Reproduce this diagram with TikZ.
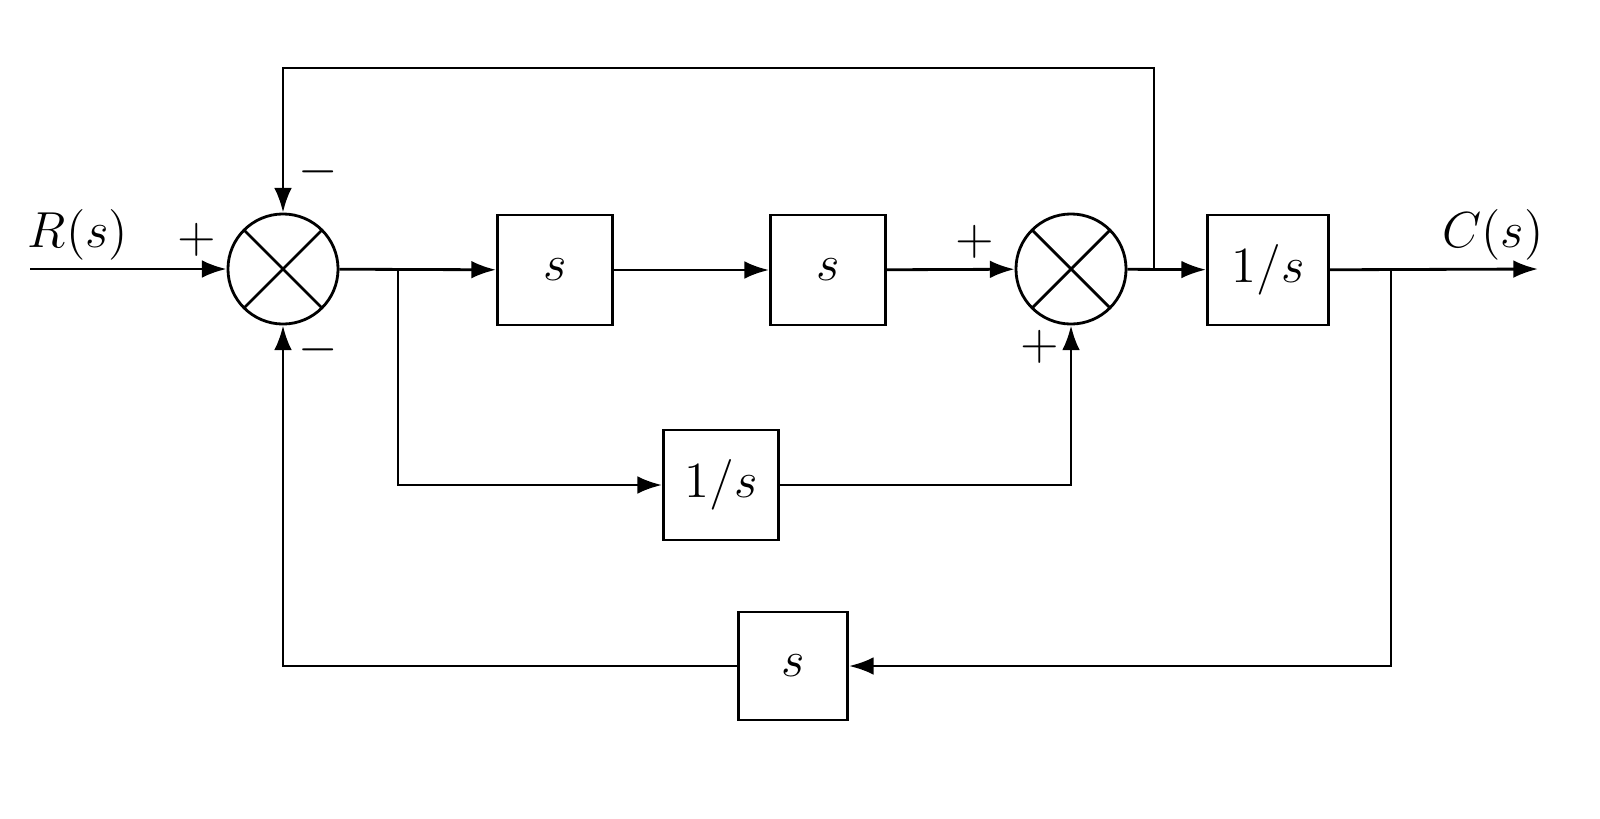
\documentclass[tikz,border=0pt]{standalone}
\usetikzlibrary{arrows.meta,calc}
\begin{document}
\begin{tikzpicture}[x=0.01cm,y=-0.01cm,
  line width=0.8pt,
  sum/.style={draw,circle,minimum size=1.1cm,inner sep=0pt},
  arr/.style={-{Latex[length=7pt,width=5pt]}},
  lab/.style={font=\fontsize{15}{17}\selectfont},
  sg/.style={font=\fontsize{14}{16}\selectfont}]
\useasboundingbox (0,0) rectangle (1600,818);
\node[sum] (s1) at (283,269) {};
\draw ($(s1)+(-38.9,-38.9)$) -- ($(s1)+(38.9,38.9)$);
\draw ($(s1)+(-38.9,38.9)$) -- ($(s1)+(38.9,-38.9)$);
\node[sum] (s2) at (1071,269) {};
\draw ($(s2)+(-38.9,-38.9)$) -- ($(s2)+(38.9,38.9)$);
\draw ($(s2)+(-38.9,38.9)$) -- ($(s2)+(38.9,-38.9)$);
\node[draw,minimum width=1.15cm,minimum height=1.1cm,lab] (b1) at (555,270) {$s$};
\node[draw,minimum width=1.15cm,minimum height=1.1cm,lab] (b2) at (828,270) {$s$};
\node[draw,minimum width=1.21cm,minimum height=1.1cm,lab] (b3) at (1268,270) {$1/s$};
\node[draw,minimum width=1.15cm,minimum height=1.1cm,lab] (b4) at (721,485) {$1/s$};
\node[draw,minimum width=1.09cm,minimum height=1.08cm,lab] (b5) at (793,666) {$s$};
\coordinate (in) at (30,269);
\coordinate (out) at (1538,269);
\coordinate (j1) at (398,269);
\coordinate (j2) at (1154,269);
\coordinate (j3) at (1391,269);
\node[lab] at (78,235) {$R(s)$};
\node[lab] at (1493,235) {$C(s)$};
\draw[arr] (in) -- (s1);
\draw[arr] (s1) -- (b1);
\draw[arr] (b1) -- (b2);
\draw[arr] (b2) -- (s2);
\draw[arr] (s2) -- (b3);
\draw[arr] (b3) -- (out);
\draw[arr] (j2) -- (1154,68) -- (283,68) -- (s1);
\draw[arr] (j1) -- (398,485) -- (b4);
\draw[arr] (b4) -- (1071,485) -- (s2);
\draw[arr] (j3) -- (1391,666) -- (b5);
\draw[arr] (b5) -- (283,666) -- (s1);
\node[sg] at (197,240) {$+$};
\node[sg] at (318,172) {$-$};
\node[sg] at (318,350) {$-$};
\node[sg] at (975,242) {$+$};
\node[sg] at (1040,347) {$+$};
\end{tikzpicture}
\end{document}
